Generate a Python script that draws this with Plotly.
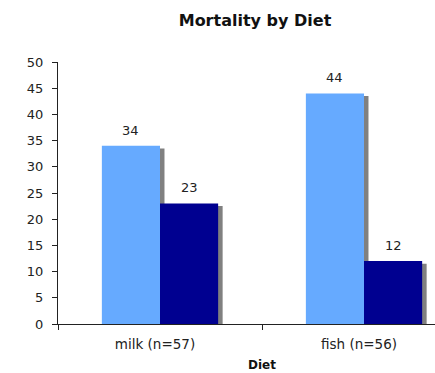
import plotly.graph_objects as go

categories = ["milk (n=57)", "fish (n=56)"]
series_a = [34, 44]
series_b = [23, 12]

light = "#66AAFF"
dark = "#000090"
shadow = "#808080"
font_family = "Verdana, DejaVu Sans, sans-serif"

bw = 0.285
shadow_dx = 0.022
shadow_dy = 0.5

fig = go.Figure()
# shadows
for vals, off in [(series_a, -bw), (series_b, 0)]:
    fig.add_trace(go.Bar(
        x=categories, y=[v - shadow_dy for v in vals], width=bw, offset=off + shadow_dx,
        marker=dict(color=shadow, line=dict(width=0)), hoverinfo="skip", showlegend=False))
# main bars
for vals, off, col in [(series_a, -bw, light), (series_b, 0, dark)]:
    fig.add_trace(go.Bar(
        x=categories, y=vals, width=bw, offset=off,
        marker=dict(color=col, line=dict(width=0)), showlegend=False))

# value labels
annotations = []
for vals, off in [(series_a, -bw), (series_b, 0)]:
    for i, v in enumerate(vals):
        annotations.append(dict(
            x=i + off + bw / 2, y=v, xref="x", yref="y", text=str(v),
            showarrow=False, yanchor="bottom", yshift=6,
            font=dict(family=font_family, size=13, color="#222222")))

# x axis title (centred on the full category span)
annotations.append(dict(
    text="<b>Diet</b>", x=0.5, xref="x domain", y=-41 / 262, yref="paper",
    yanchor="middle", showarrow=False, xshift=(466 - 435) / 2,
    font=dict(family=font_family, size=12, color="#111111")))

fig.update_layout(
    width=435, height=373,
    margin=dict(l=58, r=0, t=62, b=49, autoexpand=False),
    barmode="overlay",
    plot_bgcolor="white", paper_bgcolor="white",
    font=dict(family=font_family, size=13, color="#222222"),
    title=dict(text="<b>Mortality by Diet</b>", x=255 / 435, xanchor="center", xref="container",
               y=1 - 20 / 373, yref="container", yanchor="middle",
               font=dict(size=16, color="#111111"), automargin=False),
    annotations=annotations,
)
fig.update_xaxes(
    type="category", range=[-0.5, 1.348], automargin=False,
    showline=True, linecolor="#222222", linewidth=1,
    ticks="outside", tickson="boundaries", ticklen=5, tickcolor="#222222",
    showgrid=False, zeroline=False,
    tickfont=dict(size=13.5), ticklabelstandoff=8, ticklabelshift=-5,
)
fig.update_yaxes(
    range=[0, 50], dtick=5, tick0=0, automargin=False,
    showline=True, linecolor="#222222", linewidth=1,
    ticks="outside", ticklen=5, tickcolor="#222222",
    showgrid=False, zeroline=False,
    tickfont=dict(size=13), ticklabelstandoff=6,
)

fig.write_html("out.html", config={"displayModeBar": False},
               post_script="document.body.style.margin='0';")
